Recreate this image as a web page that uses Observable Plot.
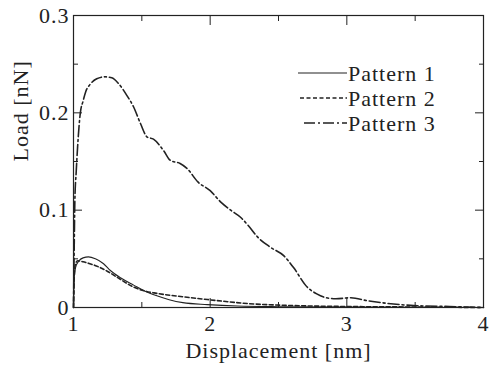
<!DOCTYPE html>
<html><head><meta charset="utf-8">
<script src="https://cdn.jsdelivr.net/npm/d3@7"></script>
<script src="https://cdn.jsdelivr.net/npm/@observablehq/plot@0.6"></script>
<style>
body{margin:0;background:#fff;}
#chart{position:relative;width:494px;height:370px;}
#chart svg, #chart svg text{font-family:"Liberation Serif","Times New Roman",serif !important;}
</style></head><body><div id="chart"></div>
<script>
// Pattern 1 (solid)
const x1 = [1.0, 1.005, 1.015, 1.04, 1.07, 1.11, 1.16, 1.22, 1.27, 1.35, 1.44, 1.52, 1.61, 1.7, 1.8, 1.98, 2.2, 2.5, 3.0, 3.5, 4.0];
const y1 = [0.0, 0.03, 0.041, 0.048, 0.051, 0.052, 0.050, 0.045, 0.038, 0.030, 0.023, 0.017, 0.012, 0.008, 0.005, 0.003, 0.0015, 0.0008, 0.0004, 0.0002, 0.0];
// Pattern 2 (dashed)
const x2 = [1.0, 1.005, 1.015, 1.03, 1.07, 1.12, 1.18, 1.25, 1.32, 1.44, 1.52, 1.59, 1.8, 1.99, 2.28, 2.6, 3.0, 3.5, 4.0];
const y2 = [0.0, 0.03, 0.045, 0.048, 0.047, 0.045, 0.042, 0.037, 0.031, 0.021, 0.017, 0.015, 0.011, 0.008, 0.004, 0.002, 0.001, 0.0005, 0.0];
// Pattern 3 (dash-dot)
const x3 = [1.0, 1.005, 1.01, 1.02, 1.03, 1.05, 1.07, 1.09, 1.12, 1.17, 1.23, 1.28, 1.33, 1.39, 1.44, 1.49, 1.54, 1.585, 1.66, 1.71, 1.78, 1.83, 1.91, 2.0, 2.08, 2.15, 2.22, 2.28, 2.35, 2.44, 2.54, 2.61, 2.71, 2.78, 2.85, 2.92, 3.03, 3.15, 3.25, 3.49, 3.75, 4.0];
const y3 = [0.0, 0.06, 0.11, 0.14, 0.165, 0.2, 0.212, 0.222, 0.229, 0.235, 0.237, 0.236, 0.230, 0.218, 0.206, 0.189, 0.175, 0.173, 0.161, 0.151, 0.148, 0.143, 0.129, 0.120, 0.108, 0.100, 0.093, 0.084, 0.072, 0.062, 0.053, 0.041, 0.021, 0.014, 0.010, 0.009, 0.010, 0.007, 0.005, 0.002, 0.001, 0.0];

const seriesNames = ["Pattern 1", "Pattern 2", "Pattern 3"];
const xMajor = [1, 2, 3, 4];
const xMinor = [1.5, 2.5, 3.5];
const xTickLabels = ["1", "2", "3", "4"];
const yMajor = [0, 0.1, 0.2, 0.3];
const yMinor = [0.05, 0.15, 0.25];
const yTickLabels = ["0", "0.1", "0.2", "0.3"];
const xLabel = "Displacement [nm]";
const yLabel = "Load [nN]";

const rows = (xs, ys, name) => xs.map((x, i) => ({x, y: ys[i], name}));
const series = [rows(x1, y1, seriesNames[0]), rows(x2, y2, seriesNames[1]), rows(x3, y3, seriesNames[2])];
const dashes = [null, "4,2.5", "11,3,2,3"];
const widths = [1.1, 1.6, 1.6];
const ink = "#222";
const font = "Liberation Serif, Times New Roman, serif";

const plot = Plot.plot({
  width: 494, height: 370,
  marginLeft: 73, marginRight: 11, marginTop: 15, marginBottom: 63,
  style: {fontFamily: font, fontSize: "22px", color: ink, background: "#fff", letterSpacing: "1px"},
  x: {domain: [1, 4]},
  y: {domain: [0, 0.3]},
  marks: [
    ...series.map((d, i) => Plot.line(d, {x: "x", y: "y", stroke: ink, strokeWidth: widths[i], strokeDasharray: dashes[i], curve: "monotone-x"})),
    Plot.frame({stroke: ink, strokeWidth: 1.2}),
    Plot.axisX({anchor: "bottom", ticks: xMajor, tickSize: 0, tickPadding: 8, tickFormat: (d, i) => xTickLabels[i], label: null}),
    Plot.axisY({anchor: "left", ticks: yMajor, tickSize: 0, tickPadding: 4, tickFormat: (d, i) => yTickLabels[i], label: null}),
    Plot.axisX({anchor: "bottom", ticks: xMajor, tickSize: -9, text: null, label: null}),
    Plot.axisX({anchor: "bottom", ticks: xMinor, tickSize: -5, text: null, label: null}),
    Plot.axisX({anchor: "top", ticks: xMajor, tickSize: -9, text: null, label: null}),
    Plot.axisX({anchor: "top", ticks: xMinor, tickSize: -5, text: null, label: null}),
    Plot.axisY({anchor: "left", ticks: yMajor, tickSize: -9, text: null, label: null}),
    Plot.axisY({anchor: "left", ticks: yMinor, tickSize: -5, text: null, label: null}),
    Plot.axisY({anchor: "right", ticks: yMajor, tickSize: -9, text: null, label: null}),
    Plot.axisY({anchor: "right", ticks: yMinor, tickSize: -5, text: null, label: null}),
    Plot.text([xLabel], {frameAnchor: "bottom", dy: 50, fill: ink}),
    Plot.text([yLabel], {frameAnchor: "left", rotate: -90, dx: -53, fill: ink})
  ]
});

// legend inside the plot area
const svg = d3.select(plot);
const lg = svg.append("g").attr("text-anchor", "start");
const legendY = [73, 98, 123];
const legendX0 = [298, 300, 304];
seriesNames.forEach((name, i) => {
  lg.append("line").attr("x1", legendX0[i]).attr("x2", 347).attr("y1", legendY[i]).attr("y2", legendY[i])
    .attr("stroke", ink).attr("stroke-width", widths[i]).attr("stroke-dasharray", dashes[i]);
  lg.append("text").attr("x", 348).attr("y", legendY[i]).attr("dy", "0.35em")
    .attr("fill", ink).attr("font-size", 22).attr("letter-spacing", "1px").text(name);
});

document.getElementById("chart").appendChild(plot);
</script>
</body></html>
